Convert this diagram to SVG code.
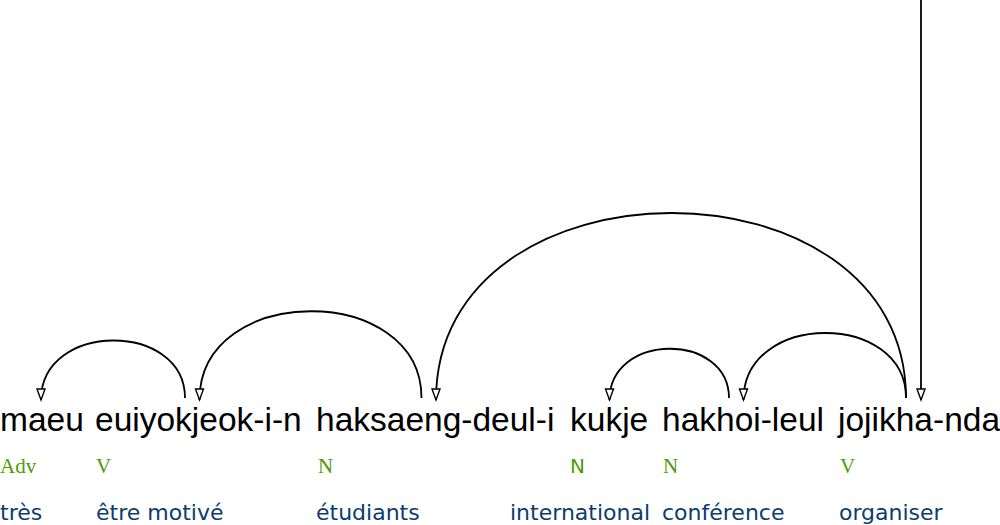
<svg xmlns="http://www.w3.org/2000/svg" width="1000" height="525" viewBox="0 0 1000 525">
<style>
.w{font-family:"Liberation Sans",Arial,sans-serif;font-size:33.5px;fill:#000}
.t{font-family:"Liberation Serif","Times New Roman",serif;font-size:21px;fill:#4e9a06}
.ts{font-family:"DejaVu Sans",sans-serif;font-size:20px;fill:#4e9a06}
.g{font-family:"DejaVu Sans",sans-serif;font-size:22px;fill:#0b3d6e}
.arc{fill:none;stroke:#000;stroke-width:1.8;marker-end:url(#ah)}
</style>
<defs>
<marker id="ah" markerUnits="userSpaceOnUse" markerWidth="14" markerHeight="12" refX="11" refY="4" orient="auto" overflow="visible">
<path d="M0,0 L11,4 L0,8 Z" fill="#fff" stroke="#000" stroke-width="1.4"/>
</marker>
</defs>
<g id="connectors">
<path class="arc" d="M185,398 C185,321 41,321 41,400"/>
<path class="arc" d="M421.5,398 C421.5,282 199.5,282 199.5,400"/>
<path class="arc" d="M906,398 C906,151 436,151 436,400"/>
<path class="arc" d="M729,398 C729,332 609.5,332 609.5,400"/>
<path class="arc" d="M906,398 C906,311 743.5,311 743.5,400"/>
<path class="arc" d="M921,0 L921,400"/>
</g>
<g id="n1"><text class="w" x="0" y="431">maeu</text><text class="t" x="0" y="473">Adv</text><text class="g" x="0" y="520">très</text></g>
<g id="n2"><text class="w" x="95" y="431">euiyokjeok-i-n</text><text class="t" x="96" y="473">V</text><text class="g" x="96" y="520">être motivé</text></g>
<g id="n3"><text class="w" x="316" y="431">haksaeng-deul-i</text><text class="t" x="318" y="473">N</text><text class="g" x="316" y="520">étudiants</text></g>
<g id="n4"><text class="w" x="570" y="431">kukje</text><text class="ts" x="570" y="473">N</text><text class="g" x="510" y="520">international</text></g>
<g id="n5"><text class="w" x="662" y="431">hakhoi-leul</text><text class="t" x="663" y="473">N</text><text class="g" x="662" y="520">conférence</text></g>
<g id="n6"><text class="w" x="838" y="431">jojikha-nda</text><text class="t" x="840" y="473">V</text><text class="g" x="839" y="520">organiser</text></g>
</svg>
